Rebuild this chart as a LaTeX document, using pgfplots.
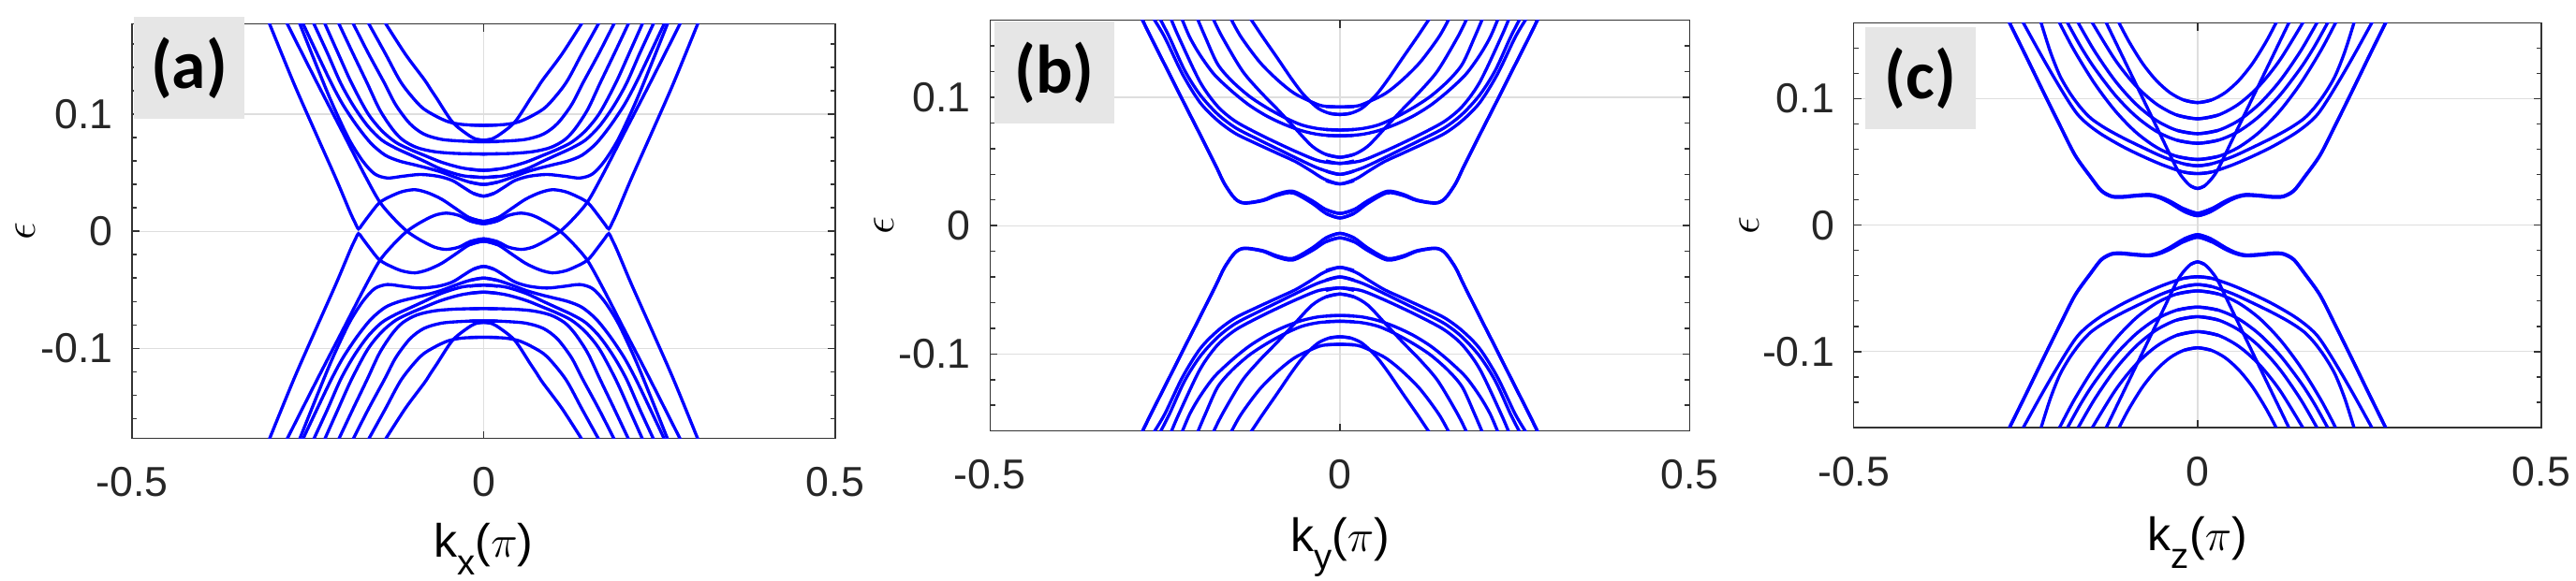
\documentclass[border=0pt]{standalone}
\usepackage{fontspec}
\setmainfont{Liberation Sans}
\newfontfamily\cfont{Carlito}
\usepackage{pgfplots}
\usepackage{pgfplotstable}
\pgfplotsset{compat=1.18}
\definecolor{labgray}{RGB}{230,230,230}

% one quadrant (k>=0, upper band) per band; the spectrum is symmetric in k and in energy
% ---------- panel (a) ----------
\pgfplotstableread[row sep=\\]{k e\\ -0.02 0.009\\ 0 0.0065\\ 0.02 0.009\\ 0.035 0.0135\\ 0.053 0.0155\\ 0.07 0.0135\\ 0.09 0.0075\\ 0.109 0\\ 0.128 -0.011\\ 0.148 -0.0253\\ 0.17 -0.049\\ 0.2 -0.084\\ 0.2366 -0.1265\\ 0.28 -0.178\\}\aA
\pgfplotstableread[row sep=\\]{k e\\ -0.02 0.0115\\ 0 0.0085\\ 0.02 0.0115\\ 0.04 0.0195\\ 0.06 0.0275\\ 0.08 0.033\\ 0.0976 0.0355\\ 0.115 0.034\\ 0.13 0.0305\\ 0.148 0.0245\\ 0.163 0.0135\\ 0.173 0.0055\\ 0.178 0.002\\ 0.183 0.0075\\ 0.19 0.0165\\ 0.21 0.045\\ 0.24 0.0855\\ 0.27 0.1265\\ 0.305 0.178\\}\aB
\pgfplotstableread[row sep=\\]{k e\\ -0.015 0.0325\\ 0 0.030\\ 0.015 0.0325\\ 0.03 0.038\\ 0.045 0.0435\\ 0.065 0.047\\ 0.09 0.0485\\ 0.115 0.047\\ 0.137 0.0455\\ 0.155 0.049\\ 0.172 0.06\\ 0.19 0.077\\ 0.207 0.098\\ 0.221 0.117\\ 0.24 0.145\\ 0.262 0.178\\}\aC
\pgfplotstableread[row sep=\\]{k e\\ -0.02 0.042\\ 0 0.040\\ 0.02 0.042\\ 0.04 0.046\\ 0.06 0.0505\\ 0.08 0.054\\ 0.1 0.057\\ 0.12 0.06\\ 0.14 0.065\\ 0.16 0.075\\ 0.18 0.09\\ 0.2 0.108\\ 0.2166 0.1265\\ 0.237 0.152\\ 0.2574 0.178\\}\aD
\pgfplotstableread[row sep=\\]{k e\\ -0.02 0.047\\ 0 0.046\\ 0.03 0.0475\\ 0.06 0.053\\ 0.085 0.06\\ 0.105 0.0655\\ 0.125 0.071\\ 0.145 0.078\\ 0.165 0.09\\ 0.185 0.107\\ 0.2033 0.1265\\ 0.222 0.152\\ 0.242 0.178\\}\aE
\pgfplotstableread[row sep=\\]{k e\\ -0.02 0.053\\ 0 0.052\\ 0.03 0.054\\ 0.06 0.059\\ 0.085 0.065\\ 0.105 0.07\\ 0.125 0.076\\ 0.145 0.086\\ 0.165 0.101\\ 0.1878 0.1265\\ 0.207 0.152\\ 0.2263 0.178\\}\aF
\pgfplotstableread[row sep=\\]{k e\\ -0.02 0.0662\\ 0 0.066\\ 0.04 0.0665\\ 0.07 0.068\\ 0.095 0.0715\\ 0.115 0.078\\ 0.13 0.0875\\ 0.148 0.104\\ 0.1656 0.1265\\ 0.186 0.152\\ 0.2064 0.178\\}\aG
\pgfplotstableread[row sep=\\]{k e\\ -0.02 0.0766\\ 0 0.0765\\ 0.03 0.077\\ 0.06 0.0785\\ 0.085 0.083\\ 0.105 0.092\\ 0.125 0.108\\ 0.141 0.1265\\ 0.164 0.152\\ 0.186 0.178\\}\aH
\pgfplotstableread[row sep=\\]{k e\\ -0.01 0.0785\\ 0 0.0778\\ 0.01 0.0785\\ 0.0222 0.0824\\ 0.0444 0.0933\\ 0.0666 0.1134\\ 0.0755 0.1214\\ 0.0843 0.1295\\ 0.111 0.151\\ 0.14 0.178\\}\aI
\pgfplotstableread[row sep=\\]{k e\\ -0.02 0.0907\\ 0 0.0905\\ 0.03 0.0912\\ 0.05 0.0935\\ 0.07 0.099\\ 0.09 0.107\\ 0.1168 0.1265\\ 0.14 0.152\\ 0.164 0.178\\}\aJ
% ---------- panel (b) ----------
\pgfplotstableread[row sep=\\]{k e\\ -0.02 0.0095\\ 0 0.006\\ 0.02 0.0095\\ 0.04 0.0175\\ 0.0674 0.0255\\ 0.09 0.0235\\ 0.11 0.0195\\ 0.1365 0.0175\\ 0.15 0.021\\ 0.165 0.0325\\ 0.177 0.046\\ 0.2 0.071\\ 0.221 0.0935\\ 0.2436 0.118\\ 0.27 0.1465\\ 0.283 0.161\\}\bA
\pgfplotstableread[row sep=\\]{k e\\ -0.02 0.0125\\ 0 0.0095\\ 0.02 0.0125\\ 0.04 0.0195\\ 0.0674 0.0268\\ 0.09 0.0245\\ 0.11 0.020\\ 0.1365 0.0178\\ 0.15 0.0212\\ 0.165 0.0327\\ 0.177 0.0462\\ 0.2 0.0712\\ 0.221 0.0937\\ 0.2436 0.1182\\ 0.27 0.1467\\ 0.283 0.1612\\}\bB
\pgfplotstableread[row sep=\\]{k e\\ -0.02 0.035\\ 0 0.0325\\ 0.0228 0.0364\\ 0.0406 0.0424\\ 0.0629 0.0497\\ 0.09 0.0565\\ 0.12 0.064\\ 0.15 0.072\\ 0.175 0.082\\ 0.2 0.096\\ 0.225 0.118\\ 0.2503 0.1467\\ 0.266 0.161\\}\bC
\pgfplotstableread[row sep=\\]{k e\\ -0.02 0.0425\\ 0 0.040\\ 0.03 0.0445\\ 0.06 0.052\\ 0.09 0.06\\ 0.12 0.068\\ 0.15 0.0765\\ 0.175 0.087\\ 0.2 0.102\\ 0.222 0.121\\ 0.2436 0.1467\\ 0.257 0.161\\}\bD
\pgfplotstableread[row sep=\\]{k e\\ -0.02 0.0505\\ 0 0.0485\\ 0.03 0.0505\\ 0.06 0.057\\ 0.09 0.0645\\ 0.12 0.0725\\ 0.15 0.0815\\ 0.175 0.093\\ 0.2 0.112\\ 0.2302 0.1467\\ 0.2414 0.161\\}\bE
\pgfplotstableread[row sep=\\]{k e\\ -0.02 0.0555\\ 0 0.0533\\ 0.02 0.0555\\ 0.04 0.062\\ 0.065 0.0764\\ 0.09 0.091\\ 0.115 0.105\\ 0.14 0.121\\ 0.168 0.1467\\ 0.1811 0.161\\}\bF
\pgfplotstableread[row sep=\\]{k e\\ -0.02 0.0703\\ 0 0.070\\ 0.03 0.071\\ 0.055 0.074\\ 0.08 0.079\\ 0.105 0.0855\\ 0.13 0.094\\ 0.155 0.105\\ 0.18 0.118\\ 0.2 0.133\\ 0.2146 0.1467\\ 0.2258 0.161\\}\bG
\pgfplotstableread[row sep=\\]{k e\\ -0.02 0.0748\\ 0 0.0745\\ 0.03 0.0755\\ 0.055 0.0785\\ 0.08 0.0845\\ 0.105 0.092\\ 0.13 0.101\\ 0.155 0.113\\ 0.175 0.126\\ 0.1923 0.1467\\ 0.2035 0.161\\}\bH
\pgfplotstableread[row sep=\\]{k e\\ -0.015 0.0875\\ 0 0.0866\\ 0.015 0.0875\\ 0.03 0.091\\ 0.043 0.097\\ 0.055 0.104\\ 0.07 0.115\\ 0.09 0.131\\ 0.11 0.1467\\ 0.1276 0.161\\}\bI
\pgfplotstableread[row sep=\\]{k e\\ -0.02 0.0928\\ 0 0.0925\\ 0.025 0.0933\\ 0.043 0.097\\ 0.065 0.103\\ 0.0875 0.1127\\ 0.114 0.127\\ 0.141 0.1467\\ 0.1557 0.161\\}\bJ
% ---------- panel (c) ----------
\pgfplotstableread[row sep=\\]{k e\\ -0.02 0.011\\ 0 0.0075\\ 0.02 0.011\\ 0.04 0.0175\\ 0.055 0.0215\\ 0.07 0.0235\\ 0.09 0.023\\ 0.11 0.022\\ 0.125 0.0225\\ 0.14 0.027\\ 0.155 0.0375\\ 0.178 0.055\\ 0.2 0.0785\\ 0.225 0.106\\ 0.25 0.134\\ 0.2745 0.161\\}\cA
\pgfplotstableread[row sep=\\]{k e\\ -0.02 0.013\\ 0 0.0095\\ 0.02 0.013\\ 0.04 0.019\\ 0.055 0.0225\\ 0.07 0.0243\\ 0.09 0.0237\\ 0.11 0.0227\\ 0.125 0.0231\\ 0.14 0.0276\\ 0.155 0.038\\ 0.178 0.0555\\ 0.2 0.079\\ 0.225 0.1065\\ 0.25 0.1345\\ 0.2745 0.1615\\}\cB
\pgfplotstableread[row sep=\\]{k e\\ -0.01 0.031\\ 0 0.029\\ 0.01 0.031\\ 0.02 0.0365\\ 0.03 0.0445\\ 0.05 0.067\\ 0.07 0.0895\\ 0.09 0.112\\ 0.11 0.1345\\ 0.134 0.1615\\}\cC
\pgfplotstableread[row sep=\\]{k e\\ -0.02 0.042\\ 0 0.0408\\ 0.02 0.042\\ 0.05 0.0475\\ 0.08 0.0545\\ 0.11 0.0625\\ 0.14 0.072\\ 0.16 0.08\\ 0.175 0.088\\ 0.19 0.1\\ 0.21 0.118\\ 0.23 0.137\\ 0.2543 0.161\\}\cD
\pgfplotstableread[row sep=\\]{k e\\ -0.02 0.0485\\ 0 0.047\\ 0.02 0.0485\\ 0.05 0.054\\ 0.08 0.0615\\ 0.11 0.0695\\ 0.135 0.077\\ 0.155 0.0845\\ 0.17 0.093\\ 0.185 0.104\\ 0.2 0.118\\ 0.214 0.137\\ 0.228 0.161\\}\cE
\pgfplotstableread[row sep=\\]{k e\\ -0.03 0.0544\\ 0 0.052\\ 0.03 0.0544\\ 0.06 0.0617\\ 0.09 0.0737\\ 0.12 0.0906\\ 0.15 0.1123\\ 0.18 0.1388\\ 0.202 0.1615\\}\cF
\pgfplotstableread[row sep=\\]{k e\\ -0.03 0.0672\\ 0 0.0648\\ 0.03 0.0672\\ 0.06 0.0743\\ 0.09 0.0863\\ 0.12 0.103\\ 0.15 0.1244\\ 0.17 0.1414\\ 0.1905 0.1615\\}\cG
\pgfplotstableread[row sep=\\]{k e\\ -0.03 0.075\\ 0 0.0724\\ 0.03 0.075\\ 0.06 0.0829\\ 0.09 0.096\\ 0.12 0.1143\\ 0.15 0.1379\\ 0.175 0.1615\\}\cH
\pgfplotstableread[row sep=\\]{k e\\ -0.03 0.0871\\ 0 0.0842\\ 0.03 0.0871\\ 0.06 0.0959\\ 0.09 0.1104\\ 0.12 0.1309\\ 0.1545 0.1615\\}\cI
\pgfplotstableread[row sep=\\]{k e\\ -0.02 0.099\\ 0 0.097\\ 0.02 0.099\\ 0.04 0.1048\\ 0.06 0.1145\\ 0.08 0.128\\ 0.1 0.1455\\ 0.1155 0.1615\\}\cJ

\pgfplotsset{
  bnd/.style={blue, line width=1.0pt, smooth, mark=none},
  mat/.style={
    scale only axis, anchor=north west,
    xmin=-0.5, xmax=0.5,
    xtick={-0.5,0,0.5}, xticklabels={-0.5,0,0.5},
    ytick={-0.1,0,0.1}, yticklabels={-0.1,0,0.1},
    minor ytick={-0.16,-0.14,-0.12,-0.08,-0.06,-0.04,-0.02,0.02,0.04,0.06,0.08,0.12,0.14,0.16},
    tick align=inside,
    major tick length=2.4pt, minor tick length=1.6pt,
    grid=major,
    major grid style={black!13, line width=0.4pt},
    axis line style={black!80, line width=0.45pt},
    every tick/.append style={black!80, line width=0.45pt},
    tick label style={font=\fontsize{13.4}{15}\selectfont, text=black!85, inner sep=0pt},
    xticklabel style={anchor=north, yshift=-9.1pt},
    yticklabel style={anchor=east, xshift=-6pt},
    ylabel={$\epsilon$},
    ylabel style={at={(axis description cs:-0.152,0.5)}, anchor=center, inner sep=0pt, font=\fontsize{14}{16}\selectfont},
    xlabel style={at={(axis description cs:0.5,0)}, anchor=north, inner sep=0pt, font=\fontsize{15}{17}\selectfont},
  },
}
\tikzset{lab/.style={fill=labgray, inner sep=0pt, anchor=north west, font=\cfont\bfseries\fontsize{22}{24}\selectfont}}
\newcommand{\kl}[1]{k\raisebox{-5.8pt}{\fontsize{11.5}{12}\selectfont #1}($\pi$)}

\newcommand{\band}[1]{%
  \addplot[bnd] table[x=k, y=e]{#1};
  \addplot[bnd] table[x expr=-\thisrow{k}, y=e]{#1};
  \addplot[bnd] table[x=k, y expr=-\thisrow{e}]{#1};
  \addplot[bnd] table[x expr=-\thisrow{k}, y expr=-\thisrow{e}]{#1};
}

\begin{document}
\begin{tikzpicture}
\path[use as bounding box] (0,0) rectangle (825.3pt,-186pt);

\begin{axis}[mat, at={(42.3pt,-7.7pt)}, width=225.3pt, height=132.9pt,
  ymin=-0.177, ymax=0.177, xlabel={\kl{x}}, xlabel style={yshift=-27pt}]
\band{\aA}\band{\aB}\band{\aC}\band{\aD}\band{\aE}
\band{\aF}\band{\aG}\band{\aH}\band{\aI}\band{\aJ}
\end{axis}

\begin{axis}[mat, at={(317.2pt,-6.5pt)}, width=224.2pt, height=131.7pt,
  ymin=-0.16, ymax=0.16, xlabel={\kl{y}}, xlabel style={yshift=-27.5pt}]
\band{\bA}\band{\bB}\band{\bC}\band{\bD}\band{\bE}
\band{\bF}\band{\bG}\band{\bH}\band{\bI}\band{\bJ}
\end{axis}

\begin{axis}[mat, at={(593.9pt,-7.35pt)}, width=220.3pt, height=129.7pt,
  ymin=-0.16, ymax=0.16, xlabel={\kl{z}}, xlabel style={yshift=-28.4pt}]
\band{\cA}\band{\cB}\band{\cC}\band{\cD}\band{\cE}
\band{\cF}\band{\cG}\band{\cH}\band{\cI}\band{\cJ}
\end{axis}

\node[lab, minimum width=35.2pt, minimum height=32.9pt] at (42.8pt,-5.1pt) {(a)};
\node[lab, minimum width=38.4pt, minimum height=32.6pt] at (318.3pt,-6.75pt) {(b)};
\node[lab, minimum width=35.3pt, minimum height=32.7pt] at (597.5pt,-8.55pt) {(c)};
\end{tikzpicture}
\end{document}
